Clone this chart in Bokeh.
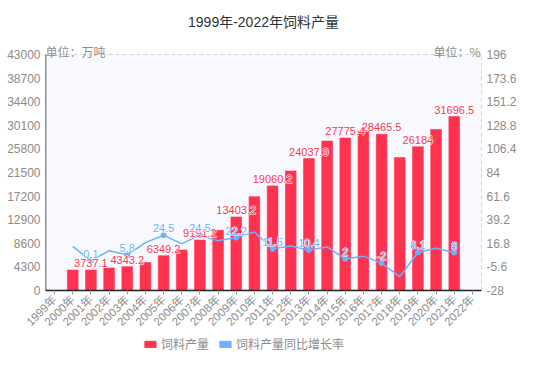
from math import pi
from bokeh.plotting import figure
from bokeh.layouts import column
from bokeh.core.properties import value
from bokeh.models import (ColumnDataSource, Range1d, LinearAxis, FixedTicker, NumeralTickFormatter,
                          LabelSet, Label, Legend, LegendItem, FactorRange, BoxAnnotation)
from bokeh.transform import dodge
from bokeh.embed import file_html
from bokeh.resources import INLINE

# ---------------- data ----------------
years = ["1999年", "2000年", "2001年", "2002年", "2003年", "2004年", "2005年", "2006年",
         "2007年", "2008年", "2009年", "2010年", "2011年", "2012年", "2013年", "2014年",
         "2015年", "2016年", "2017年", "2018年", "2019年", "2020年", "2021年", "2022年"]
production = [None, 3733.4, 3737.1, 4105.0, 4343.2, 5099.0, 6349.2, 7382.0,
              9191.2, 10968.0, 13403.2, 17094.0, 19060.2, 21773.0, 24037.9, 27231.0,
              27775.4, 29046.0, 28465.5, 24222.0, 26184.0, 29349.0, 31696.5, None]
growth = [None, 13.8, 0.1, 9.8, 5.8, 17.4, 24.5, 16.3,
          24.5, 19.3, 22.2, 27.5, 11.5, 14.2, 10.4, 13.3,
          2.0, 4.6, -2.0, -14.9, 8.1, 12.1, 8.0, None]
left_ticks = [0, 4300, 8600, 12900, 17200, 21500, 25800, 30100, 34400, 38700, 43000]
right_ticks = [-28, -5.6, 16.8, 39.2, 61.6, 84, 106.4, 128.8, 151.2, 173.6, 196]
title_text = "1999年-2022年饲料产量"
left_unit = "单位：万吨"
right_unit = "单位：%"
bar_name = "饲料产量"
line_name = "饲料产量同比增长率"

# ---------------- layout / styles ----------------
W, H = 554, 369
MAIN_H = 336                       # main figure height, legend strip below
FL, FR, FB = 45, 481, 290          # frame left / right / bottom (px)
PLOT_TOP = 54                      # pixel row of the top of the value area
RED = "#ff3350"
BLUE = "#6cb0ff"
GRAY = "#8c8c8c"
FONT = "Liberation Sans, Noto Sans CJK SC"
CJK = "Noto Sans CJK SC"

def nan(v):
    return float("nan") if v is None else v

def fmt(v):
    return f"{v:g}"

# extend ranges upward so the frame reaches the top of the canvas (title lives inside)
plot_h = FB - PLOT_TOP
l_lo, l_hi = left_ticks[0], left_ticks[-1]
r_lo, r_hi = right_ticks[0], right_ticks[-1]
l_end = l_hi + (l_hi - l_lo) * PLOT_TOP / plot_h
r_end = r_hi + (r_hi - r_lo) * PLOT_TOP / plot_h

src = ColumnDataSource(dict(
    x=years,
    prod=[nan(v) for v in production],
    gr=[nan(v) for v in growth],
))

lab_idx = [i for i, y in enumerate(years) if production[i] is not None and int(y[:4]) % 2 == 1]
lab_src = ColumnDataSource(dict(
    x=[years[i] for i in lab_idx],
    prod=[production[i] for i in lab_idx],
    prod_t=[fmt(production[i]) for i in lab_idx],
    gr=[growth[i] for i in lab_idx],
    gr_t=[fmt(growth[i]) for i in lab_idx],
))

p = figure(x_range=FactorRange(*years, range_padding=0), y_range=Range1d(l_lo, l_end),
           width=W, height=MAIN_H, output_backend="svg", toolbar_location=None,
           min_border_left=FL, min_border_right=W - FR, min_border_top=0,
           min_border_bottom=MAIN_H - FB,
           background_fill_color="white", border_fill_color="white",
           outline_line_color=None)
p.extra_y_ranges = {"pct": Range1d(r_lo, r_end)}

# plot-area background
p.add_layout(BoxAnnotation(bottom=l_lo, top=l_hi, fill_color="#f7f9fe", fill_alpha=1,
                           line_color=None, level="underlay"))

# left axis
ya = p.yaxis[0]
ya.ticker = FixedTicker(ticks=left_ticks)
ya.formatter = NumeralTickFormatter(format="0")
ya.major_label_text_font = FONT
ya.major_label_text_font_size = "12px"
ya.major_label_text_color = GRAY
ya.major_tick_out = 0
ya.major_tick_in = 0
ya.minor_tick_out = 0
ya.minor_tick_in = 0
ya.major_label_standoff = 5
ya.axis_line_color = None

# right axis
ra = LinearAxis(y_range_name="pct", ticker=FixedTicker(ticks=right_ticks),
                formatter=NumeralTickFormatter(format="0.[0]"))
ra.major_label_text_font = FONT
ra.major_label_text_font_size = "12px"
ra.major_label_text_color = GRAY
ra.major_tick_out = 0
ra.major_tick_in = 0
ra.minor_tick_out = 0
ra.minor_tick_in = 0
ra.major_label_standoff = 5
ra.axis_line_color = None
p.add_layout(ra, "right")

# x axis
xa = p.xaxis[0]
xa.major_label_orientation = pi / 4
xa.major_label_text_font = FONT
xa.major_label_text_font_size = "11.5px"
xa.major_label_text_color = GRAY
xa.major_tick_out = 4
xa.major_tick_in = 0
xa.major_tick_line_color = "#999999"
xa.major_label_standoff = 3
xa.axis_line_color = "#222222"
xa.axis_line_width = 1.5

p.xgrid.visible = False
p.ygrid.grid_line_color = "#aaaaaa"
p.ygrid.grid_line_dash = "4 3"

# axis lines limited to the value area
edge_src = ColumnDataSource(dict(first=[years[0]], last=[years[-1]], lo=[l_lo], hi=[l_hi]))
p.segment(x0=dodge("first", -0.5, range=p.x_range), y0="lo",
          x1=dodge("first", -0.5, range=p.x_range), y1="hi", source=edge_src,
          line_color="#222222", line_width=1.5)
p.segment(x0=dodge("last", 0.5, range=p.x_range), y0="lo",
          x1=dodge("last", 0.5, range=p.x_range), y1="hi", source=edge_src,
          line_color="#aaaaaa", line_width=1, line_dash="4 3")

# bars
bars = p.vbar(x="x", top="prod", width=0.59, source=src, fill_color=RED, line_color=RED,
              line_alpha=0.6)

# line
p.line(x="x", y="gr", source=src, y_range_name="pct", line_color=BLUE, line_width=1.5)
p.scatter(x="x", y="gr", source=lab_src, y_range_name="pct", size=5, fill_color=BLUE,
          line_color=BLUE)

# data labels: a white halo underneath, coloured text on top
def labels(y, text, color, **kw):
    common = dict(x="x", y=y, text=text, source=lab_src, text_align="center",
                  text_baseline="bottom", y_offset=3, text_font=value(FONT),
                  text_font_size="11px", **kw)
    p.add_layout(LabelSet(text_color="white", text_outline_color="white", **common))
    p.add_layout(LabelSet(text_color=color, **common))

labels("prod", "prod_t", RED)
labels("gr", "gr_t", BLUE, y_range_name="pct")

# title and units (screen units: from frame left / frame bottom)
p.add_layout(Label(x=(FR - FL) / 2, y=FB - 21, x_units="screen", y_units="screen",
                   text=title_text, text_align="center", text_baseline="middle",
                   text_font=FONT, text_font_size="14px", text_color="#333333"))
p.add_layout(Label(x=0, y=FB - 50.5, x_units="screen", y_units="screen", text=left_unit,
                   text_align="left", text_baseline="middle", text_font=CJK,
                   text_font_size="12px", text_color=GRAY))
p.add_layout(Label(x=FR - FL - 1, y=FB - 50.5, x_units="screen", y_units="screen",
                   text=right_unit, text_align="right", text_baseline="middle",
                   text_font=CJK, text_font_size="12px", text_color=GRAY))

# ---------------- legend strip ----------------
LEG_H = H - MAIN_H
lg = figure(width=W, height=LEG_H, output_backend="svg", toolbar_location=None,
            x_range=Range1d(0, 1), y_range=Range1d(0, 1),
            x_axis_location=None, y_axis_location=None,
            min_border=0, min_border_left=0, min_border_right=0,
            min_border_top=0, min_border_bottom=0, outline_line_color=None,
            background_fill_color="white", border_fill_color="white")
lg.grid.visible = False
hidden = ColumnDataSource(dict(x=[-5.0], top=[-5.0]))
r_red = lg.vbar(x="x", top="top", width=0.5, source=hidden, fill_color=RED, line_color=RED)
r_blue = lg.vbar(x="x", top="top", width=0.5, source=hidden, fill_color=BLUE, line_color=BLUE)
legend = Legend(items=[LegendItem(label=bar_name, renderers=[r_red]),
                       LegendItem(label=line_name, renderers=[r_blue])],
                orientation="horizontal", location=(98, LEG_H - 9 - 7),
                padding=0, margin=0, spacing=9, label_standoff=4,
                glyph_width=14, glyph_height=8, label_height=14,
                label_text_font=CJK, label_text_font_size="12px", label_text_color=GRAY,
                border_line_alpha=0, background_fill_alpha=0)
lg.add_layout(legend, "center")

open("out.html", "w").write(file_html(column(p, lg, spacing=0), INLINE))
